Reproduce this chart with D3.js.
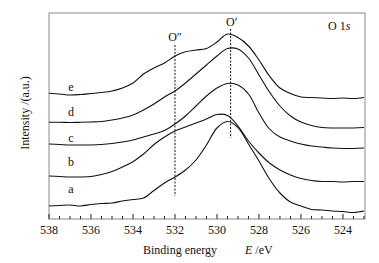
<!DOCTYPE html>
<html><head><meta charset="utf-8">
<script src="https://cdn.jsdelivr.net/npm/d3@7"></script>
<style>
html,body{margin:0;padding:0;background:#fff;}
svg{display:block;font-family:"Liberation Serif","Times New Roman",serif;}
</style></head>
<body>
<svg id="chart" width="379" height="263"></svg>
<script>
// Binding energy grid (eV), shared by all spectra
const energy = d3.range(0, 31).map(i => 538 - i * 0.5);
// Intensities (a.u., offset spectra)
const seriesA = [13,13.5,14,13,14.5,15.5,16,18,19.5,21,28.5,36,42,49,59,74,91,97.5,91.5,75,58,40,26,17,13,9.5,9,8,7.5,6.5,8];
const seriesB = [43,42.5,42,42,42.5,44.5,47.5,52,57.3,65,74.5,82,88,92,96,100,104.5,103.5,93,78,66,56,49,44,40.5,38.5,37.5,37.5,37,37.5,37.5];
const seriesC = [75,74.5,74,74,74,74.5,75.5,77,79,82,85,88.5,95,103,113,123,131,135.5,134,125,106,90,82,78,75,73,72,71,70.5,70.5,71];
const seriesD = [96.7,96.7,96.5,96.7,97,97.5,99,101,104,109,115,122,128,136,145,154,163,170.5,170,161,144,127,113,103,97,93.5,91.5,91,91,91,91.5];
const seriesE = [125.7,125,124,124.5,125.5,126.5,128,131,136,145,151,156,163,167.3,169,170.5,177,185,181.5,173,159,143,131,125.5,122,121.5,121,120.5,121,120.5,121.5];
const seriesNames = ["a","b","c","d","e"];
const xTickLabels = [538,536,534,532,530,528,526,524];
const refLines = [{name:"O\u2033", e:532}, {name:"O\u2032", e:529.35}];

const svg = d3.select("#chart");
const L = 49, R = 365, T = 13, B = 219;
const x = d3.scaleLinear().domain([538, 522.95]).range([L, R]);
const y = d3.scaleLinear().domain([0, 206]).range([B, T]);

const allSeries = [seriesA, seriesB, seriesC, seriesD, seriesE];
const line = d3.line().x(d => x(d[0])).y(d => y(d[1])).curve(d3.curveCatmullRom.alpha(0.5));

// frame
svg.append("rect").attr("x", L).attr("y", T).attr("width", R - L).attr("height", B - T)
  .attr("fill", "none").attr("stroke", "#8a8a8a").attr("stroke-width", 1);

// bottom axis ticks (inward)
const minor = d3.range(538, 522.9, -0.5);
svg.append("g").selectAll("line").data(minor).join("line")
  .attr("x1", d => x(d)).attr("x2", d => x(d))
  .attr("y1", B).attr("y2", d => B - (xTickLabels.includes(d) ? 5 : 3))
  .attr("stroke", "#222").attr("stroke-width", 1);
svg.append("g").selectAll("text").data(xTickLabels).join("text")
  .attr("x", d => x(d)).attr("y", 234).attr("text-anchor", "middle")
  .attr("font-size", 12).attr("fill", "#111").text(d => d);

// spectra
allSeries.forEach(vals => {
  svg.append("path").datum(energy.map((e, i) => [e, vals[i]]))
    .attr("d", line).attr("fill", "none").attr("stroke", "#111").attr("stroke-width", 1.1);
});

// series labels
const labelY = [192.5, 166, 141.5, 116, 91];
seriesNames.forEach((n, i) => {
  svg.append("text").attr("x", 71).attr("y", labelY[i]).attr("text-anchor", "middle")
    .attr("font-size", 12).attr("fill", "#111").text(n);
});

// reference dashed lines
svg.append("line").attr("x1", x(532)).attr("x2", x(532)).attr("y1", 45).attr("y2", 196)
  .attr("stroke", "#111").attr("stroke-width", 1).attr("stroke-dasharray", "2,1.5");
svg.append("line").attr("x1", x(529.35)).attr("x2", x(529.35)).attr("y1", 29).attr("y2", 138)
  .attr("stroke", "#111").attr("stroke-width", 1).attr("stroke-dasharray", "2,1.5");
svg.append("text").attr("x", x(532)).attr("y", 40.5).attr("text-anchor", "middle")
  .attr("font-size", 12).attr("fill", "#111").text(refLines[0].name);
svg.append("text").attr("x", x(529.35)+1).attr("y", 25.5).attr("text-anchor", "middle")
  .attr("font-size", 12).attr("fill", "#111").text(refLines[1].name);

// O 1s
const t1 = svg.append("text").attr("x", 328).attr("y", 29.5).attr("font-size", 12).attr("fill", "#111");
t1.append("tspan").text("O 1");
t1.append("tspan").attr("font-style", "italic").text("s");

// axis titles
svg.append("text").attr("x", 143).attr("y", 254).attr("font-size", 12).attr("fill", "#111").text("Binding energy");
const t2 = svg.append("text").attr("x", 245).attr("y", 254).attr("font-size", 12).attr("fill", "#111");
t2.append("tspan").attr("font-style", "italic").text("E");
t2.append("tspan").text(" /eV");
svg.append("text").attr("transform", "translate(29,113) rotate(-90)").attr("text-anchor", "middle")
  .attr("font-size", 12).attr("fill", "#111").text("Intensity /(a.u.)");
</script>
</body></html>
